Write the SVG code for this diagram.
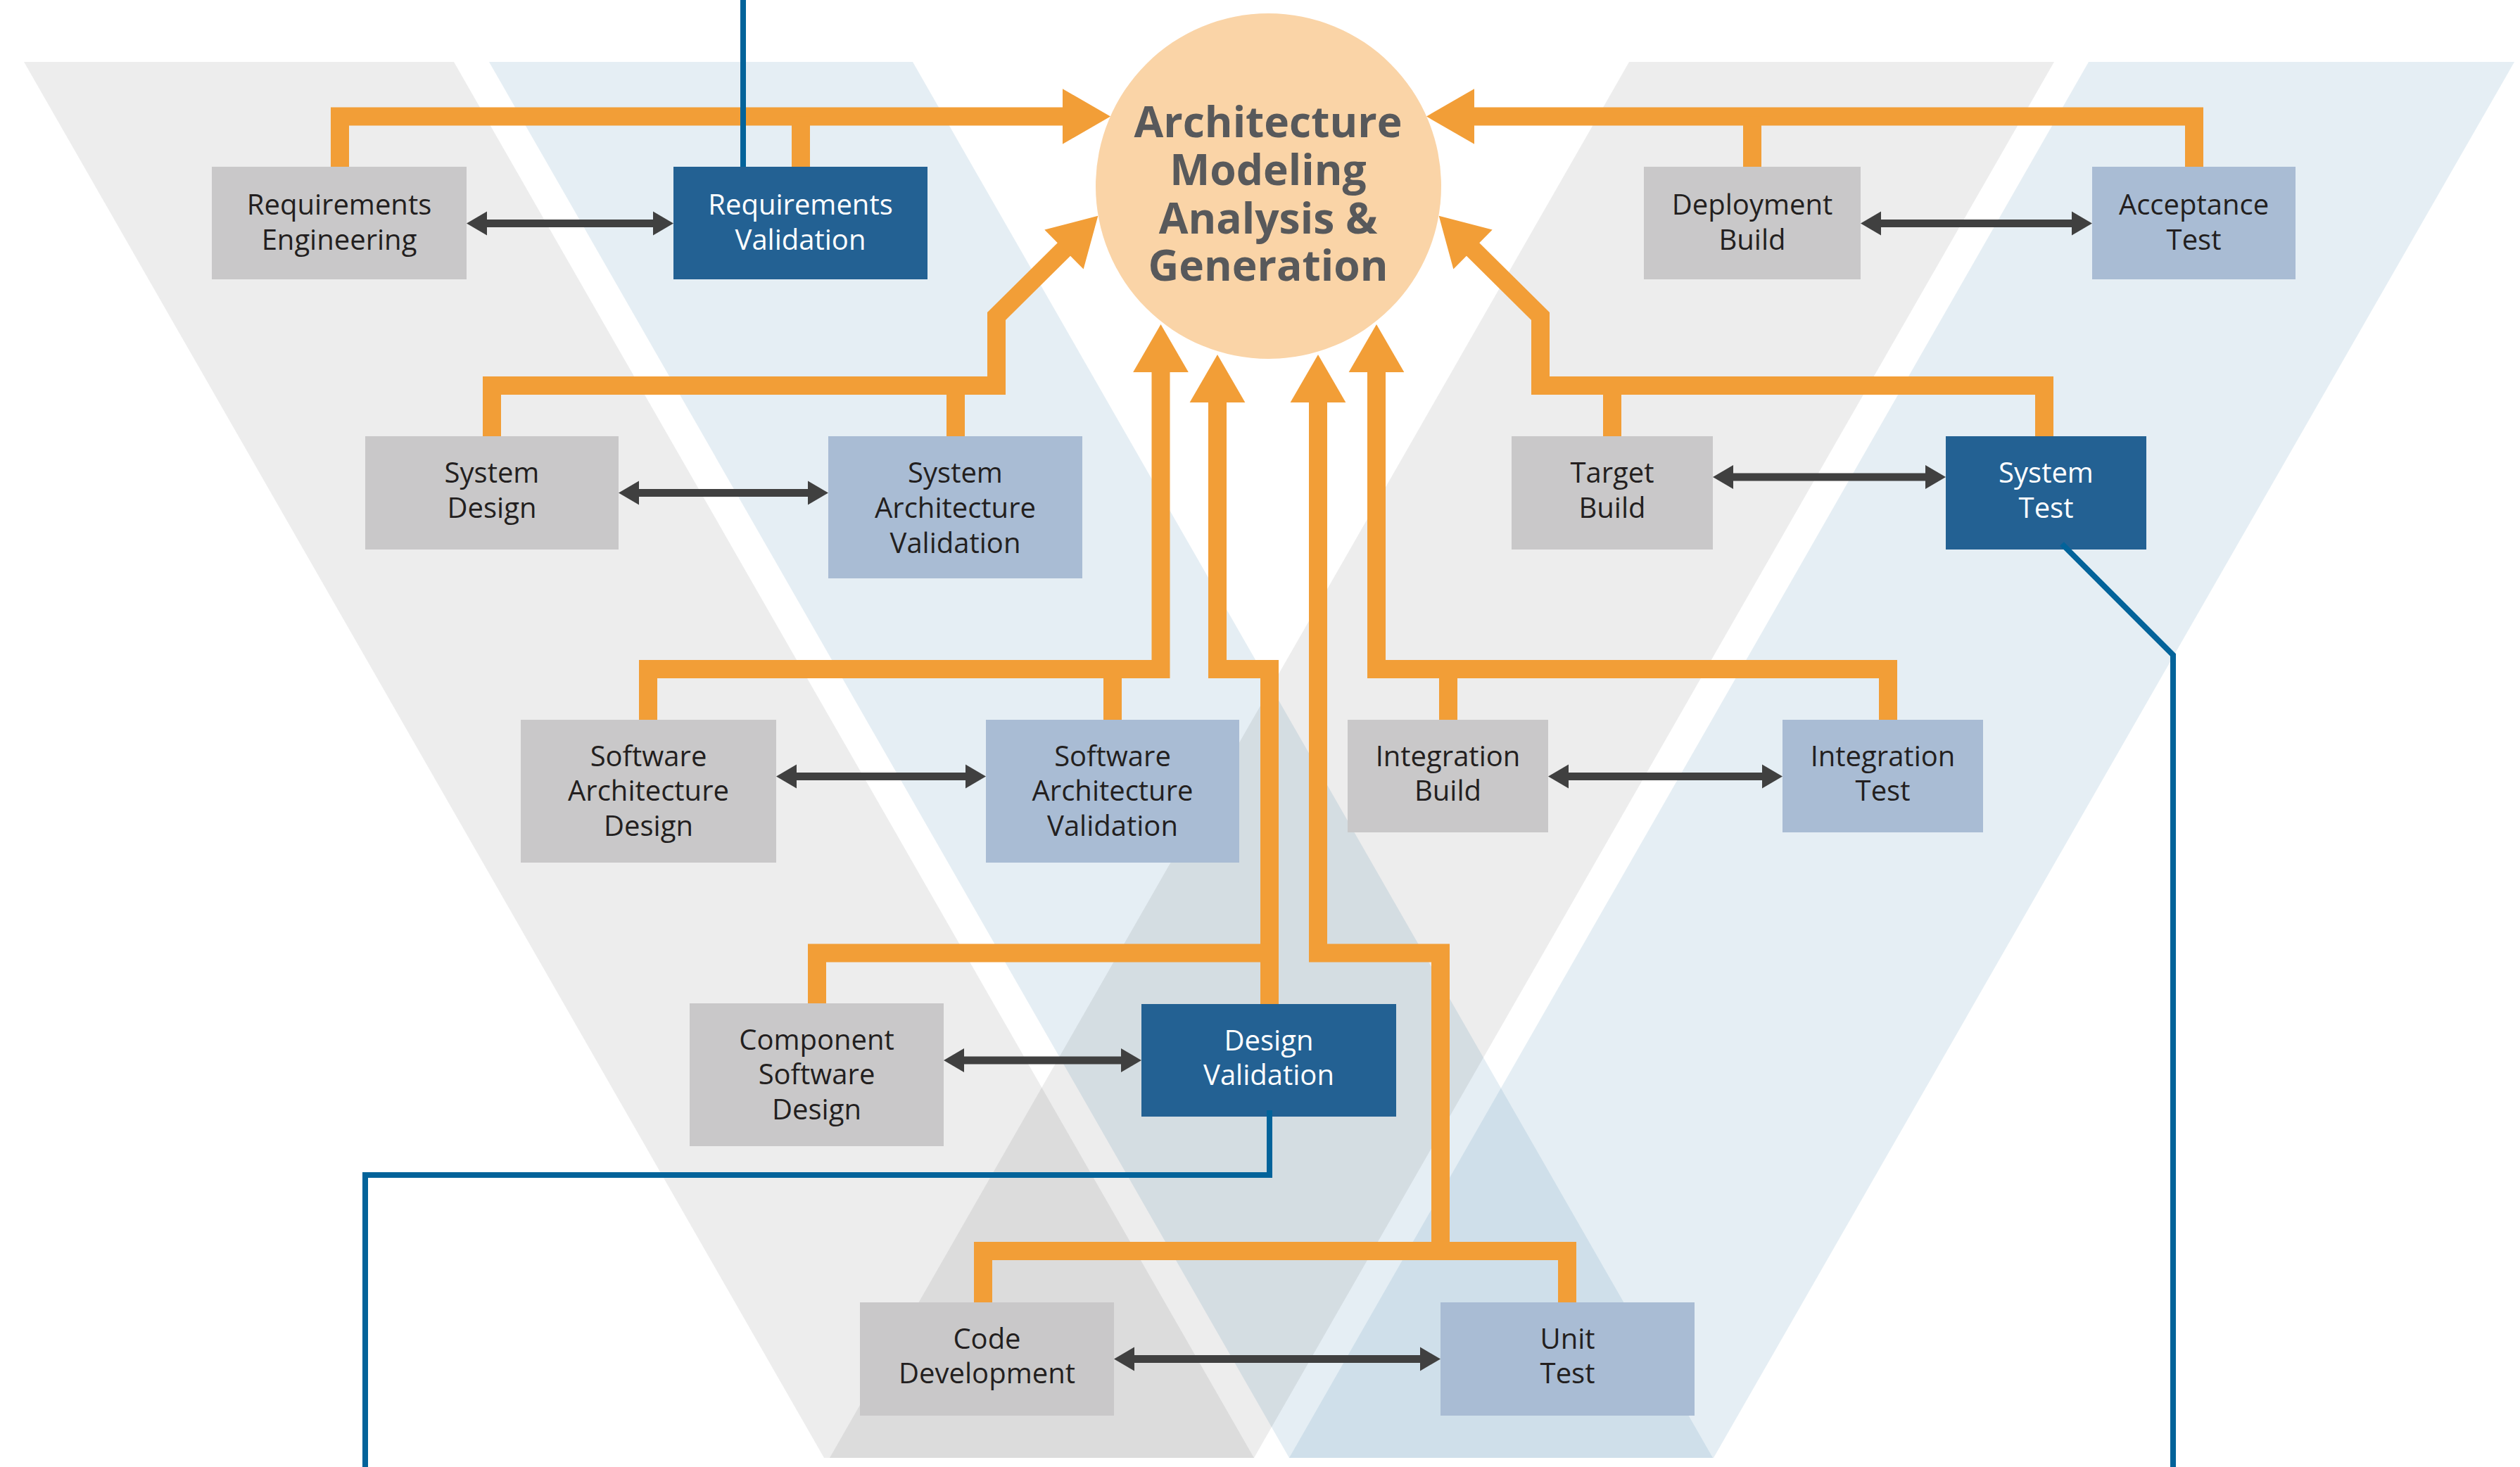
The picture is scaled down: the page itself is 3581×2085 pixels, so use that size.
<svg xmlns="http://www.w3.org/2000/svg" width="3581" height="2085" viewBox="0 0 3581 2085">
<style>
.bgG{fill:#000;fill-opacity:0.07}
.bgB{fill:rgb(86,145,184);fill-opacity:0.154}
.g{fill:#C9C8C9}
.d{fill:#236193}
.l{fill:#A9BCD4}
.t{font-family:"Open Sans","Liberation Sans",sans-serif;font-size:40px;fill:#231F20;text-anchor:middle}
.w{fill:#FFFFFF}
.or{fill:none;stroke:#F29E37;stroke-width:26;stroke-linejoin:miter;stroke-miterlimit:10}
.oa{fill:none;stroke:#F29E37;stroke-width:26;stroke-linejoin:miter;stroke-miterlimit:10;marker-end:url(#oh)}
.dk{fill:none;stroke:#404040;stroke-width:11;marker-start:url(#dh);marker-end:url(#dh)}
.bl{fill:none;stroke:#03639A;stroke-width:8;stroke-linejoin:miter}
.ct{font-family:"Open Sans","Liberation Sans",sans-serif;font-size:60.5px;font-weight:bold;fill:#58595B;text-anchor:middle}
</style>
<defs>
<marker id="oh" markerUnits="userSpaceOnUse" markerWidth="80" markerHeight="80" viewBox="0 0 70 80" refX="2" refY="39.35" orient="auto" overflow="visible">
<path d="M0,0 L68,39.35 L0,78.7 Z" fill="#F29E37"/>
</marker>
<marker id="dh" markerUnits="userSpaceOnUse" markerWidth="30" markerHeight="34" viewBox="0 0 30 34" refX="9" refY="17" orient="auto-start-reverse" overflow="visible">
<path d="M0,0 L29,17 L0,34 Z" fill="#404040"/>
</marker>
</defs>
<rect width="3581" height="2085" fill="#FFFFFF"/>
<g id="background">
<polygon class="bgG" points="34,88 645,88 1782,2072 1171,2072"/>
<polygon class="bgB" points="695,88 1297,88 2434,2072 1832,2072"/>
<polygon class="bgG" points="2315,88 2919,88 1782,2072 1179,2072"/>
<polygon class="bgB" points="2968,88 3573,88 2435,2072 1832,2072"/>
</g>
<g id="core">
<circle cx="1802.5" cy="264.5" r="245.5" fill="#FAD4A7"/>
<text class="ct" x="1802" y="195">Architecture</text>
<text class="ct" x="1802" y="263">Modeling</text>
<text class="ct" x="1802" y="332">Analysis &amp;</text>
<text class="ct" x="1802" y="399">Generation</text>
</g>
<g id="node-requirements-engineering">
<rect class="g" x="301" y="237" width="362" height="160"/>
<text class="t" x="482" y="305">Requirements</text>
<text class="t" x="482" y="355">Engineering</text>
</g>
<g id="node-requirements-validation">
<rect class="d" x="957" y="237" width="361" height="160"/>
<text class="t w" x="1137.5" y="305">Requirements</text>
<text class="t w" x="1137.5" y="355">Validation</text>
</g>
<g id="node-system-design">
<rect class="g" x="519" y="620" width="360" height="161"/>
<text class="t" x="699" y="686">System</text>
<text class="t" x="699" y="736">Design</text>
</g>
<g id="node-system-architecture-validation">
<rect class="l" x="1177" y="620" width="361" height="202"/>
<text class="t" x="1357.5" y="686">System</text>
<text class="t" x="1357.5" y="736">Architecture</text>
<text class="t" x="1357.5" y="786">Validation</text>
</g>
<g id="node-deployment-build">
<rect class="g" x="2336" y="237" width="308" height="160"/>
<text class="t" x="2490" y="305">Deployment</text>
<text class="t" x="2490" y="355">Build</text>
</g>
<g id="node-acceptance-test">
<rect class="l" x="2973" y="237" width="289" height="160"/>
<text class="t" x="3117.5" y="305">Acceptance</text>
<text class="t" x="3117.5" y="355">Test</text>
</g>
<g id="node-target-build">
<rect class="g" x="2148" y="620" width="286" height="161"/>
<text class="t" x="2291" y="686">Target</text>
<text class="t" x="2291" y="736">Build</text>
</g>
<g id="node-system-test">
<rect class="d" x="2765" y="620" width="285" height="161"/>
<text class="t w" x="2907.5" y="686">System</text>
<text class="t w" x="2907.5" y="736">Test</text>
</g>
<g id="node-software-architecture-design">
<rect class="g" x="740" y="1023" width="363" height="203"/>
<text class="t" x="921.5" y="1089">Software</text>
<text class="t" x="921.5" y="1138">Architecture</text>
<text class="t" x="921.5" y="1188">Design</text>
</g>
<g id="node-software-architecture-validation">
<rect class="l" x="1401" y="1023" width="360" height="203"/>
<text class="t" x="1581" y="1089">Software</text>
<text class="t" x="1581" y="1138">Architecture</text>
<text class="t" x="1581" y="1188">Validation</text>
</g>
<g id="node-integration-build">
<rect class="g" x="1915" y="1023" width="285" height="160"/>
<text class="t" x="2057.5" y="1089">Integration</text>
<text class="t" x="2057.5" y="1138">Build</text>
</g>
<g id="node-integration-test">
<rect class="l" x="2533" y="1023" width="285" height="160"/>
<text class="t" x="2675.5" y="1089">Integration</text>
<text class="t" x="2675.5" y="1138">Test</text>
</g>
<g id="node-component-software-design">
<rect class="g" x="980" y="1426" width="361" height="203"/>
<text class="t" x="1160.5" y="1492">Component</text>
<text class="t" x="1160.5" y="1541">Software</text>
<text class="t" x="1160.5" y="1591">Design</text>
</g>
<g id="node-design-validation">
<rect class="d" x="1622" y="1427" width="362" height="160"/>
<text class="t w" x="1803" y="1493">Design</text>
<text class="t w" x="1803" y="1542">Validation</text>
</g>
<g id="node-code-development">
<rect class="g" x="1222" y="1851" width="361" height="161"/>
<text class="t" x="1402.5" y="1917">Code</text>
<text class="t" x="1402.5" y="1966">Development</text>
</g>
<g id="node-unit-test">
<rect class="l" x="2047" y="1851" width="361" height="161"/>
<text class="t" x="2227.5" y="1917">Unit</text>
<text class="t" x="2227.5" y="1966">Test</text>
</g>
<g id="connectors">
<path class="oa" d="M483,237 V165.5 H1512"/>
<path class="or" d="M1138,237 V165.5"/>
<path class="oa" d="M3118,237 V165.5 H2093"/>
<path class="or" d="M2490,237 V165.5"/>
<path class="oa" d="M699,620 V548 H1416 V449.5 L1513.4,353.1"/>
<path class="or" d="M1358,620 V548"/>
<path class="oa" d="M2905,620 V548 H2189 V449.5 L2091.6,353.1"/>
<path class="or" d="M2291,620 V548"/>
<path class="oa" d="M921,1023 V951 H1649.5 V527"/>
<path class="or" d="M1581,1023 V951"/>
<path class="oa" d="M1804,1427 V951 H1730 V570"/>
<path class="or" d="M1161,1426 V1354.5 H1804"/>
<path class="oa" d="M2047,1778 V1354.5 H1873 V570"/>
<path class="or" d="M1397,1851 V1778 H2227 V1851"/>
<path class="oa" d="M2683,1023 V951 H1956 V527"/>
<path class="or" d="M2058,1023 V951"/>
<path class="dk" d="M683,317.5 H937"/>
<path class="dk" d="M899,700.5 H1157"/>
<path class="dk" d="M1123,1103.5 H1381"/>
<path class="dk" d="M1361,1507 H1602"/>
<path class="dk" d="M1603,1931.5 H2027"/>
<path class="dk" d="M2664,317.5 H2953"/>
<path class="dk" d="M2454,678 H2745"/>
<path class="dk" d="M2220,1103.5 H2513"/>
<path class="bl" d="M1056,0 V237"/>
<path class="bl" d="M2930,773 L3088,931 V2085"/>
<path class="bl" d="M1804,1578 V1670 H519 V2085"/>
</g>
</svg>
